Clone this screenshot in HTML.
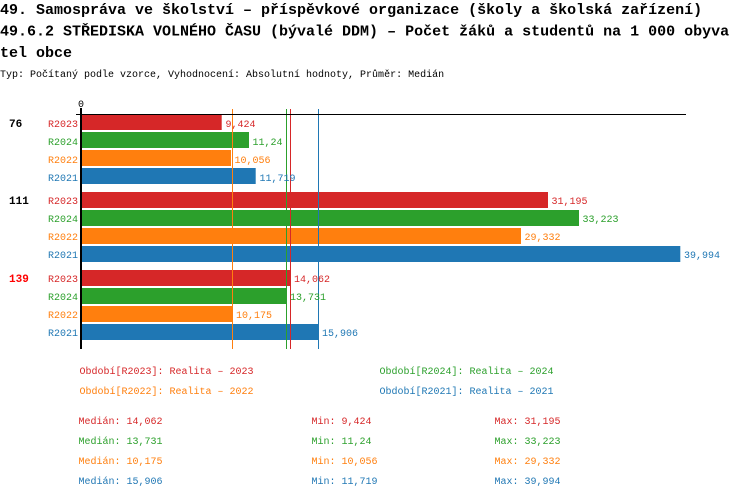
<!DOCTYPE html>
<html><head><meta charset="utf-8"><style>
html,body{margin:0;padding:0;background:#fff;}
svg{display:block;}
.t{font-family:"Liberation Mono",monospace;font-weight:bold;font-size:15px;fill:#000;}
.s{font-family:"Liberation Mono",monospace;font-size:10px;}
.g{font-family:"Liberation Mono",monospace;font-size:11px;font-weight:bold;}
</style></head><body>
<svg width="750" height="498" viewBox="0 0 750 498" xmlns="http://www.w3.org/2000/svg">
<text class="t" x="0" y="14">49. Samospráva ve školství – příspěvkové organizace (školy a školská zařízení)</text>
<text class="t" x="0" y="35.5">49.6.2 STŘEDISKA VOLNÉHO ČASU (bývalé DDM) – Počet žáků a studentů na 1 000 obyva</text>
<text class="t" x="0" y="57">tel obce</text>
<text class="s" x="0" y="77" fill="#000">Typ: Počítaný podle vzorce, Vyhodnocení: Absolutní hodnoty, Průměr: Medián</text>

<text class="s" x="81" y="107" fill="#000" text-anchor="middle">0</text>

<!-- group 76 -->
<rect x="81" y="114" width="140.7" height="16" fill="#d62728"/>
<rect x="81" y="132" width="168" height="16" fill="#2ca02c"/>
<rect x="81" y="150" width="150" height="16" fill="#ff7f0e"/>
<rect x="81" y="168" width="174.7" height="16" fill="#1f77b4"/>
<!-- group 111 -->
<rect x="81" y="192" width="467" height="16" fill="#d62728"/>
<rect x="81" y="210" width="498" height="16" fill="#2ca02c"/>
<rect x="81" y="228" width="440" height="16" fill="#ff7f0e"/>
<rect x="81" y="246" width="599.3" height="16" fill="#1f77b4"/>
<!-- group 139 -->
<rect x="81" y="270" width="209.5" height="16" fill="#d62728"/>
<rect x="81" y="288" width="205.5" height="16" fill="#2ca02c"/>
<rect x="81" y="306" width="151.5" height="16" fill="#ff7f0e"/>
<rect x="81" y="324" width="237.5" height="16" fill="#1f77b4"/>

<!-- median lines -->
<line x1="232.5" y1="109" x2="232.5" y2="349" stroke="#ff7f0e" stroke-width="1"/>
<line x1="286.5" y1="109" x2="286.5" y2="349" stroke="#2ca02c" stroke-width="1"/>
<line x1="290.5" y1="109" x2="290.5" y2="349" stroke="#d62728" stroke-width="1"/>
<line x1="318.5" y1="109" x2="318.5" y2="349" stroke="#1f77b4" stroke-width="1"/>

<!-- axes -->
<line x1="76" y1="114.5" x2="686" y2="114.5" stroke="#000" stroke-width="1"/>
<rect x="80" y="108" width="2" height="241" fill="#000"/>

<!-- group labels -->
<text class="g" x="9" y="127" fill="#000">76</text>
<text class="g" x="9" y="204" fill="#000">111</text>
<text class="g" x="9" y="282" fill="#ff0000">139</text>

<!-- series labels -->
<g class="s" text-anchor="end">
<text x="78" y="127" fill="#d62728">R2023</text>
<text x="78" y="145" fill="#2ca02c">R2024</text>
<text x="78" y="163" fill="#ff7f0e">R2022</text>
<text x="78" y="181" fill="#1f77b4">R2021</text>
<text x="78" y="204" fill="#d62728">R2023</text>
<text x="78" y="222" fill="#2ca02c">R2024</text>
<text x="78" y="240" fill="#ff7f0e">R2022</text>
<text x="78" y="258" fill="#1f77b4">R2021</text>
<text x="78" y="282" fill="#d62728">R2023</text>
<text x="78" y="300" fill="#2ca02c">R2024</text>
<text x="78" y="318" fill="#ff7f0e">R2022</text>
<text x="78" y="336" fill="#1f77b4">R2021</text>
</g>

<!-- value labels -->
<g class="s">
<text x="225.5" y="127" fill="#d62728">9,424</text>
<text x="252.5" y="145" fill="#2ca02c">11,24</text>
<text x="234.5" y="163" fill="#ff7f0e">10,056</text>
<text x="259.5" y="181" fill="#1f77b4">11,719</text>
<text x="551.5" y="204" fill="#d62728">31,195</text>
<text x="582.5" y="222" fill="#2ca02c">33,223</text>
<text x="524.5" y="240" fill="#ff7f0e">29,332</text>
<text x="684" y="258" fill="#1f77b4">39,994</text>
<text x="294" y="282" fill="#d62728">14,062</text>
<text x="290" y="300" fill="#2ca02c">13,731</text>
<text x="236" y="318" fill="#ff7f0e">10,175</text>
<text x="322" y="336" fill="#1f77b4">15,906</text>
</g>

<!-- legend -->
<g class="s">
<text x="79.5" y="374" fill="#d62728">Období[R2023]: Realita – 2023</text>
<text x="379.5" y="374" fill="#2ca02c">Období[R2024]: Realita – 2024</text>
<text x="79.5" y="394" fill="#ff7f0e">Období[R2022]: Realita – 2022</text>
<text x="379.5" y="394" fill="#1f77b4">Období[R2021]: Realita – 2021</text>

<text x="78.5" y="424" fill="#d62728">Medián: 14,062</text>
<text x="78.5" y="444" fill="#2ca02c">Medián: 13,731</text>
<text x="78.5" y="464" fill="#ff7f0e">Medián: 10,175</text>
<text x="78.5" y="484" fill="#1f77b4">Medián: 15,906</text>

<text x="311.5" y="424" fill="#d62728">Min: 9,424</text>
<text x="311.5" y="444" fill="#2ca02c">Min: 11,24</text>
<text x="311.5" y="464" fill="#ff7f0e">Min: 10,056</text>
<text x="311.5" y="484" fill="#1f77b4">Min: 11,719</text>

<text x="560.5" y="424" fill="#d62728" text-anchor="end">Max: 31,195</text>
<text x="560.5" y="444" fill="#2ca02c" text-anchor="end">Max: 33,223</text>
<text x="560.5" y="464" fill="#ff7f0e" text-anchor="end">Max: 29,332</text>
<text x="560.5" y="484" fill="#1f77b4" text-anchor="end">Max: 39,994</text>
</g>
</svg>
</body></html>
